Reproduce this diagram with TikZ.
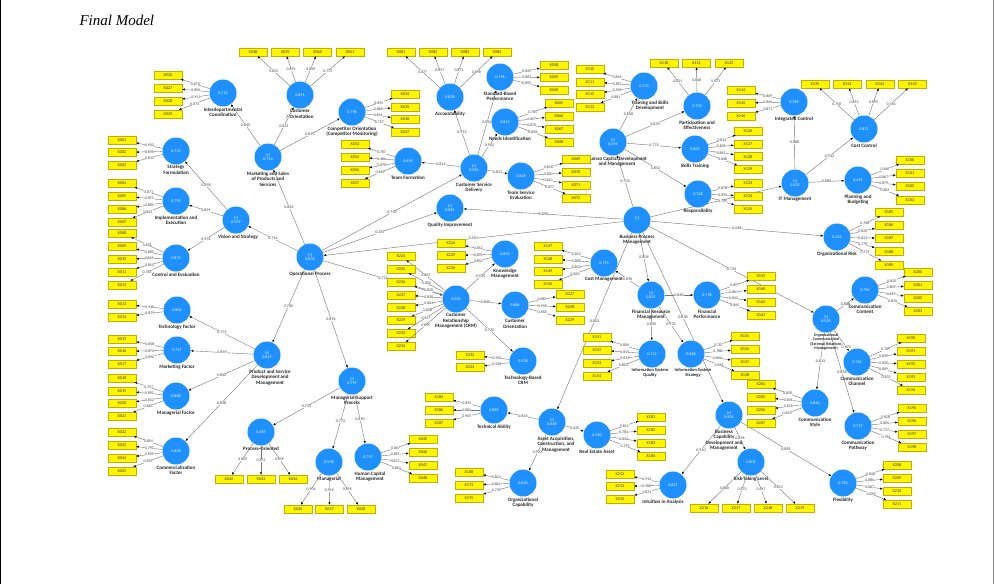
\documentclass[tikz,border=0pt]{standalone}
\usepackage{fontspec}
\setmainfont{Carlito}
\newfontfamily\titlefont{Liberation Serif}
\usetikzlibrary{arrows.meta}
\pgfdeclarelayer{bg}
\pgfdeclarelayer{paper}
\pgfsetlayers{paper,bg,main}
\definecolor{lvblue}{RGB}{30,144,255}
\definecolor{boxyel}{RGB}{255,245,0}
\definecolor{boxedge}{RGB}{190,175,0}
\tikzset{
  lv/.style={circle,fill=lvblue,minimum size=27pt,inner sep=0pt,text=white,align=center,font=\fontsize{4}{4.6}\selectfont},
  lbl/.style={font=\fontsize{5}{5.6}\selectfont\bfseries,text=black!85,align=center,inner sep=0.6pt},
  smalllbl/.style={font=\fontsize{4.5}{5.1}\selectfont\bfseries},
  ind/.style={rectangle,fill=boxyel,draw=boxedge,line width=0.3pt,minimum width=28pt,minimum height=8pt,inner sep=0pt,font=\fontsize{4.2}{4.5}\selectfont,text=black!80},
  ar/.style={draw=black!55,line width=0.4pt,-{Latex[length=2.6pt,width=2.2pt,color=black]}},
  ld/.style={font=\fontsize{3.9}{4}\selectfont,text=black!75,fill=white,inner sep=0.2pt},
  pc/.style={font=\fontsize{4}{4.2}\selectfont,text=black!75,fill=white,inner sep=0.3pt}
}
\newcommand\LV[5][]{\node[lv,label={[lbl,#1]below:{#5}}] (#2) at #3 {#4};}
\newcommand\IV[5]{\foreach \tx/\lo [count=\i] in {#5}{\node[ind] (#1-\i) at (#2,{#3+(\i-1)*(#4)}) {\tx}; \draw[ar] (#1) -- node[ld]{\lo} (#1-\i);}}
\newcommand\IH[5]{\foreach \tx/\lo [count=\i] in {#5}{\node[ind] (#1-\i) at ({#3+(\i-1)*(#4)},#2) {\tx}; \draw[ar] (#1) -- node[ld]{\lo} (#1-\i);}}
\begin{document}
\begin{tikzpicture}[x=1pt,y=-1pt]
\useasboundingbox (0,0) rectangle (995,584);
\begin{pgfonlayer}{paper}
\fill[white] (0,0) rectangle (995,584);
\draw[line width=1.2pt] (0.6,0) -- (0.6,584);
\draw[black!45,line width=0.6pt] (993,0) -- (993,584);
\end{pgfonlayer}
\node[anchor=west,font=\titlefont\itshape\fontsize{15}{17}\selectfont] (title) at (76,20) {Final Model};

% latent variables
\LV{idc}{(223,93)}{0.713}{Interdepartmental\\Coordination}
\LV{cor}{(300,95)}{0.891}{Customer\\/ Orientation}
\LV{como}{(352,112)}{0.798}{Competitor Orientation\\(Competitor Monitoring)}
\LV{mks}{(268,157)}{[+]\\0.743}{Marketing and Sales\\of Products and\\Services}
\LV{sf}{(176,151)}{0.733}{Strategy\\Formulation}
\LV{ie}{(176,201)}{0.793}{Implementation and\\Execution}
\LV{ce}{(176,258)}{0.874}{Control and Evaluation}
\LV[xshift=2pt]{vis}{(236,220)}{[+]\\0.509}{Vision and Strategy}
\LV{op}{(310,257)}{[+]\\0.003}{Operational Process}
\LV{tf}{(408,161)}{0.659}{Team Formation}
\LV{csd}{(474,168)}{[+]\\0.583}{Customer Service\\Delivery}
\LV{acc}{(450,97)}{0.838}{Accountability}
\LV{sbp}{(500,77)}{0.796}{Standard-Based\\Performance}
\LV[xshift=5pt]{ni}{(505,122)}{0.815}{Needs Identification}
\LV{tse}{(521,176)}{0.848}{Team Service\\Evaluation}
\LV{qi}{(450,208)}{[+]\\0.881}{Quality Improvement}
\LV{km}{(505,254)}{0.853}{Knowledge\\Management}
\LV{crm}{(456,299)}{0.000}{Customer\\Relationship\\Management (CRM)}
\LV{co2}{(515,305)}{0.884}{Customer\\Orientation}
\LV{tcrm}{(523,361)}{0.538}{Technology-Based\\CRM}
\LV{bpm}{(637,220)}{[+]\\\phantom{0.000}}{Business Process\\Management}
\LV[xshift=4pt]{hcd}{(613,142)}{[+]\\0.494}{Human Capital Development\\and Management}
\LV[xshift=6pt]{tsd}{(644,86)}{0.733}{Training and Skills\\Development}
\LV{pe}{(697,106)}{0.703}{Participation and\\Effectiveness}
\LV{st}{(695,149)}{0.800}{Skills Training}
\LV{resp}{(698,194)}{0.728}{Responsibility}
\LV{ic}{(794,102)}{0.789}{Integrated Control}
\LV{cc}{(864,129)}{0.871}{Cost Control}
\LV{itm}{(795,183)}{[+]\\0.502}{IT Management}
\LV{pb}{(858,180)}{0.435}{Planning and\\Budgeting}
\LV{orisk}{(837,237)}{0.322}{Organizational Risk}
\LV{cm}{(604,263)}{0.793}{Cost Management}
\LV{frm}{(651,295)}{[+]\\0.855}{Financial Resource\\Management}
\LV{fp}{(707,295)}{0.798}{Financial\\Performance}
\LV[smalllbl,xshift=-2pt]{isq}{(652,354)}{0.722}{Information System\\Quality}
\LV[smalllbl,xshift=2pt]{iss}{(691,354)}{0.868}{Information System\\Strategy}
\LV[font=\fontsize{4}{4.5}\selectfont\bfseries]{ocm}{(826,319)}{[+]\\0.539}{Organizational\\Communication\\(External Relations\\Management)}
\LV{cct}{(865,290)}{0.789}{Communication\\Content}
\LV{cch}{(857,362)}{0.762}{Communication\\Channel}
\LV{cs}{(815,403)}{0.862}{Communication\\Style}
\LV{cp}{(858,426)}{0.737}{Communication\\Pathway}
\LV[xshift=-5pt]{bcd}{(729,415)}{[+]\\0.404}{Business\\Capability\\Development and\\Management}
\LV{rtl}{(751,462)}{0.802}{Risk-Taking Level}
\LV[xshift=-10pt]{ia}{(673,485)}{0.827}{Intuition in Analysis}
\LV{flex}{(843,483)}{0.783}{Flexibility}
\LV[xshift=4pt]{aac}{(552,422)}{[+]\\0.648}{Asset Acquisition,\\Construction, and\\Management}
\LV{ta}{(494,410)}{0.889}{Technical Ability}
\LV{rea}{(597,435)}{0.190}{Real Estate Asset}
\LV{oc}{(523,483)}{0.850}{Organizational\\Capability}
\LV[xshift=3pt]{psd}{(267,355)}{[+]\\0.817}{Product and Service\\Development and\\Management}
\LV{tfac}{(177,310)}{0.800}{Technology Factor}
\LV{mf}{(177,350)}{0.727}{Marketing Factor}
\LV{manf}{(176,396)}{0.888}{Managerial Factor}
\LV{cf}{(176,451)}{0.808}{Commercialization\\Factor}
\LV{msp}{(352,381)}{[+]\\0.799}{Managerial-Support\\Process}
\LV{po}{(261,432)}{0.587}{Process-Oriented}
\LV{man}{(329,462)}{0.598}{Managerial}
\LV[xshift=2pt]{hcm}{(368,457)}{0.797}{Human Capital\\Management}

% indicators
\IV{idc}{168}{75}{13}{X026/0.870,X027/0.890,X028/0.911,X029/0.873}
\IH{cor}{52}{253}{32.3}{X038/0.852,X039/0.891,X040/0.849,X041/0.773}
\IV{como}{405}{94}{12.7}{X034/0.855,X035/0.848,X036/0.834,X037/0.757}
\IV{sf}{122}{140}{12.5}{X001/0.903,X002/0.898,X003/0.835}
\IV{ie}{122}{183}{13}{X004/0.871,X005/0.873,X006/0.881,X007/0.843}
\IV{ce}{122}{233}{13}{X008/0.832,X009/0.885,X010/0.849,X011/0.810,X012/0.783}
\IV{tf}{355}{144}{13}{X053/0.787,X054/0.486,X056/0.870,X057/0.869}
\IH{acc}{52}{401}{32}{X081/0.877,X082/0.857,X083/0.872,X084/0.898}
\IV{sbp}{554}{65}{12.5}{X058/0.849,X059/0.881,X060/0.895}
\IV{ni}{559}{103}{13}{X065/0.785,X066/0.857,X067/0.870,X068/0.858}
\IV{tse}{576}{159}{13}{X069/0.818,X070/0.820,X071/0.810,X072/0.877}
\IV{km}{451}{243}{12.5}{X224/0.852,X225/0.878,X226/0.851}
\IV{crm}{401}{256}{12.9}{X224/0.803,X225/0.800,X226/0.828,X227/0.838,X228/0.862,X229/0.808,X233/0.877,X234/0.895}
\IV{co2}{570}{294}{13}{X227/0.889,X228/0.918,X229/0.858}
\IV{tcrm}{470}{355}{12.5}{X233/0.935,X234/0.938}
\IV{tsd}{590}{69}{12.7}{X110/0.856,X111/0.853,X112/0.905,X113/0.881}
\IH{pe}{63}{664}{32.5}{X118/0.821,X121/0.868,X122/0.873}
\IV{st}{748}{131}{12.8}{X126/0.814,X127/0.838,X128/0.867,X129/0.848}
\IV{resp}{748}{183}{13}{X123/0.878,X124/0.893,X125/0.709}
\IV{ic}{741}{90}{13}{X144/0.809,X145/0.849,X146/0.871}
\IH{cc}{84}{815}{32.5}{X139/0.758,X141/0.853,X142/0.895,X143/0.783}
\IV{pb}{910}{160}{13.3}{X100/0.840,X101/0.867,X102/0.879,X103/0.822}
\IV{orisk}{889}{212}{13.2}{X185/0.768,X186/0.820,X187/0.821,X188/0.778,X189/0.775}
\IV{cm}{548}{246}{12.7}{X147/0.812,X148/0.828,X149/0.843,X150/0.863}
\IV{fp}{761}{276}{13}{X159/0.897,X160/0.861,X162/0.842,X163/0.865}
\IV{isq}{597}{337}{13}{X151/0.800,X152/0.815,X153/0.833,X154/0.803}
\IV{iss}{745}{336}{13}{X155/0.787,X156/0.788,X157/0.866,X158/0.845}
\IV{cct}{918}{272}{13}{X200/0.820,X201/0.809,X202/0.859,X203/0.876}
\IV{cch}{911}{338}{13}{X190/0.789,X191/0.839,X192/0.850,X193/0.809,X194/0.835}
\IV{cs}{761}{384}{13}{X204/0.828,X205/0.845,X206/0.876,X207/0.843}
\IV{cp}{912}{408}{13}{X195/0.828,X196/0.805,X197/0.737,X198/0.784}
\IH{rtl}{508}{704}{32}{X216/0.880,X217/0.873,X218/0.867,X219/0.813}
\IV{ia}{620}{474}{12.5}{X212/0.912,X213/0.908,X215/0.874}
\IV{flex}{897}{465}{13}{X208/0.848,X209/0.884,X210/0.887,X211/0.869}
\IV{ta}{439}{397}{13}{X184/0.855,X186/0.882,X187/0.905}
\IV{rea}{651}{417}{13}{X181/0.811,X182/0.781,X183/0.844,X184/0.797}
\IV{oc}{469}{472}{13}{X168/0.824,X173/0.842,X175/0.739}
\IV{tfac}{122}{304}{13}{X013/0.930,X014/0.879}
\IV{mf}{122}{339}{12.5}{X015/0.858,X016/0.872,X017/0.890}
\IV{manf}{122}{378}{12.8}{X018/0.757,X019/0.892,X020/0.832,X021/0.885}
\IV{cf}{122}{432}{13}{X022/0.854,X023/0.792,X024/0.895,X025/0.892}
\IH{po}{479}{229}{32}{X042/0.829,X043/0.872,X044/0.839}
\IH{man}{509}{298}{31.5}{X026/0.904,X027/0.919,X028/0.895}
\IV{hcm}{423}{439}{13}{X045/0.867,X046/0.895,X047/0.872,X048/0.863}

% structural paths
\begin{pgfonlayer}{bg}
\draw[ar] (mks) -- node[pc]{0.845} (idc);
\draw[ar] (mks) -- node[pc]{0.821} (cor);
\draw[ar] (mks) -- node[pc]{0.893} (como);
\draw[ar] (vis) -- node[pc]{0.858} (sf);
\draw[ar] (vis) -- node[pc]{0.891} (ie);
\draw[ar] (vis) -- node[pc]{0.935} (ce);
\draw[ar] (op) -- node[pc]{0.714} (vis);
\draw[ar] (op) -- node[pc]{0.862} (mks);
\draw[ar] (op) -- node[pc]{0.750} (csd);
\draw[ar] (op) -- node[pc]{0.387} (qi);
\draw[ar] (op) -- node[pc]{0.721} (crm);
\draw[ar] (op) -- node[pc]{0.785} (psd);
\draw[ar] (op) -- node[pc]{0.894} (msp);
\draw[ar] (bpm) -- node[pc]{0.501} (op);
\draw[ar] (bpm) -- node[pc]{0.890} (qi);
\draw[ar] (bpm) -- node[pc]{0.703} (hcd);
\draw[ar] (bpm) -- (itm);
\draw[ar] (bpm) -- node[pc]{0.068} (orisk);
\draw[ar] (bpm) -- node[pc]{0.809} (frm);
\draw[ar] (bpm) -- node[pc]{0.734} (ocm);
\draw[ar] (bpm) -- node[pc]{0.838} (bcd);
\draw[ar] (bpm) -- node[pc]{0.803} (aac);
\draw[ar] (csd) -- node[pc]{0.812} (tf);
\draw[ar] (csd) -- node[pc]{0.915} (acc);
\draw[ar] (csd) -- node[pc]{0.862} (sbp);
\draw[ar] (csd) -- node[pc]{0.902} (ni);
\draw[ar] (csd) -- node[pc]{0.821} (tse);
\draw[ar] (crm) -- node[pc]{0.924} (km);
\draw[ar] (crm) -- node[pc]{0.840} (co2);
\draw[ar] (crm) -- node[pc]{0.732} (tcrm);
\draw[ar] (hcd) -- node[pc]{0.858} (tsd);
\draw[ar] (hcd) -- node[pc]{0.839} (pe);
\draw[ar] (hcd) -- node[pc]{0.774} (st);
\draw[ar] (hcd) -- node[pc]{0.852} (resp);
\draw[ar] (itm) -- node[pc]{0.888} (ic);
\draw[ar] (itm) -- node[pc]{0.933} (cc);
\draw[ar] (itm) -- node[pc]{0.880} (pb);
\draw[ar] (frm) -- node[pc]{0.890} (cm);
\draw[ar] (frm) -- node[pc]{0.860} (fp);
\draw[ar] (frm) -- node[pc]{0.850} (isq);
\draw[ar] (frm) -- node[pc]{0.932} (iss);
\draw[ar] (ocm) -- node[pc]{0.888} (cct);
\draw[ar] (ocm) -- node[pc,pos=0.82]{0.873} (cch);
\draw[ar] (ocm) -- node[pc]{0.813} (cs);
\draw[ar] (ocm) -- node[pc]{0.858} (cp);
\draw[ar] (bcd) -- node[pc]{0.910} (ia);
\draw[ar] (bcd) -- node[pc]{0.896} (rtl);
\draw[ar] (bcd) -- node[pc]{0.885} (flex);
\draw[ar] (aac) -- node[pc]{0.843} (ta);
\draw[ar] (aac) -- node[pc]{0.435} (rea);
\draw[ar] (aac) -- node[pc]{0.922} (oc);
\draw[ar] (psd) -- node[pc]{0.774} (tfac);
\draw[ar] (psd) -- node[pc]{0.859} (mf);
\draw[ar] (psd) -- node[pc]{0.842} (manf);
\draw[ar] (psd) -- node[pc]{0.898} (cf);
\draw[ar] (msp) -- node[pc]{0.753} (po);
\draw[ar] (msp) -- node[pc]{0.772} (man);
\draw[ar] (msp) -- node[pc]{0.890} (hcm);
\end{pgfonlayer}
\end{tikzpicture}
\end{document}
